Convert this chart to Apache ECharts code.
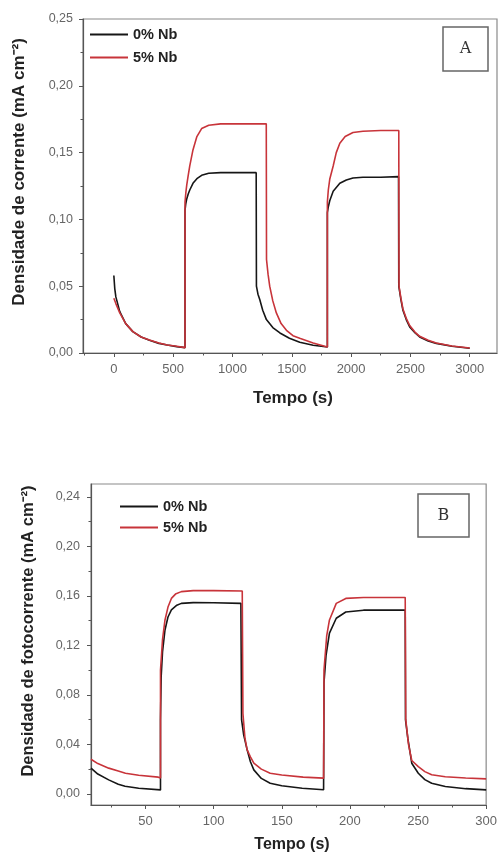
<!DOCTYPE html>
<html>
<head>
<meta charset="utf-8">
<script src="https://cdn.jsdelivr.net/npm/echarts@6/dist/echarts.min.js"></script>
<style>
  html, body { margin: 0; padding: 0; background: #fff; }
  #chart { width: 500px; height: 856px; }
</style>
</head>
<body>
<div id="chart"></div>
<script>
// painel A - densidade de corrente
const timeA0 = [0, 8, 17, 50, 100, 160, 230, 300, 380, 450, 530, 600,
  600, 606, 615, 627, 640, 667, 700, 740, 800, 900, 1000, 1100, 1200,
  1202, 1215, 1230, 1255, 1286, 1340, 1400, 1480, 1567, 1680, 1800,
  1800, 1808, 1820, 1849, 1905, 1960, 2016, 2100, 2250, 2400,
  2402, 2420, 2437, 2465, 2494, 2540, 2578, 2650, 2718, 2850, 3000];
const curA0 = [0.058, 0.048, 0.042, 0.031, 0.022, 0.016, 0.012, 0.0095, 0.0072, 0.006, 0.0048, 0.004,
  0.107, 0.1115, 0.1155, 0.119, 0.122, 0.127, 0.1305, 0.133, 0.1345, 0.135, 0.135, 0.135, 0.135,
  0.05, 0.044, 0.04, 0.032, 0.025, 0.019, 0.015, 0.011, 0.008, 0.0058, 0.0045,
  0.105, 0.1095, 0.114, 0.121, 0.127, 0.1295, 0.131, 0.1315, 0.1316, 0.132,
  0.05, 0.04, 0.032, 0.025, 0.0195, 0.015, 0.012, 0.009, 0.0072, 0.005, 0.0035];

const timeA5 = [0, 17, 50, 100, 160, 230, 300, 380, 450, 530, 600,
  600, 607, 615, 627, 640, 667, 700, 740, 800, 900, 1100, 1285,
  1287, 1300, 1314, 1340, 1370, 1410, 1455, 1510, 1567, 1680, 1800,
  1800, 1808, 1820, 1849, 1875, 1905, 1950, 2016, 2100, 2250, 2402,
  2404, 2420, 2437, 2465, 2494, 2540, 2578, 2650, 2718, 2850, 3000];
const curA5 = [0.041, 0.037, 0.03, 0.022, 0.016, 0.012, 0.0097, 0.0075, 0.006, 0.005, 0.004,
  0.113, 0.12, 0.126, 0.133, 0.14, 0.152, 0.162, 0.168, 0.1705, 0.1715, 0.1715, 0.1715,
  0.07, 0.059, 0.05, 0.039, 0.03, 0.022, 0.017, 0.013, 0.011, 0.0075, 0.0045,
  0.113, 0.122, 0.13, 0.14, 0.15, 0.157, 0.162, 0.165, 0.166, 0.1665, 0.1665,
  0.05, 0.041, 0.033, 0.026, 0.0205, 0.0155, 0.0125, 0.0095, 0.0075, 0.0052, 0.0038];

// painel B - densidade de fotocorrente
const timeB0 = [10, 15, 23, 30, 35, 45, 61,
  61, 61.5, 62.5, 64.3, 66.5, 69, 73, 76.3, 85, 100, 120,
  120.5, 122, 124.6, 127, 129.5, 135, 141.5, 150, 165, 180.7,
  181, 182.5, 185, 190, 197, 210, 240.6,
  240.8, 242.5, 245.4, 250.2, 255, 260, 270, 285, 300];
const curB0 = [0.0208, 0.016, 0.0113, 0.0078, 0.0062, 0.0045, 0.0032,
  0.06, 0.095, 0.115, 0.1325, 0.143, 0.1487, 0.1525, 0.154, 0.1546, 0.1545, 0.154,
  0.06, 0.048, 0.0356, 0.026, 0.0194, 0.0125, 0.0086, 0.0065, 0.0046, 0.0033,
  0.09, 0.112, 0.13, 0.142, 0.147, 0.1485, 0.1487,
  0.06, 0.045, 0.0248, 0.0167, 0.0115, 0.0086, 0.006, 0.0042, 0.0032];

const timeB5 = [10, 15, 23, 30, 35.3, 45, 59.4, 61,
  61, 62.5, 64.3, 66.5, 69, 72, 76.3, 85, 100, 121,
  121.5, 123, 124.6, 127, 129.5, 135, 141.5, 150, 165.7, 180.7,
  181, 183, 185, 190, 197, 210, 240.6,
  241, 243, 245.4, 250.2, 255, 260, 270, 285, 300];
const curB5 = [0.028, 0.0245, 0.0208, 0.0185, 0.0167, 0.015, 0.0135, 0.0128,
  0.1, 0.125, 0.1406, 0.151, 0.158, 0.1615, 0.1635, 0.1643, 0.1643, 0.164,
  0.065, 0.045, 0.0356, 0.03, 0.0248, 0.02, 0.0167, 0.0152, 0.0135, 0.0127,
  0.1, 0.128, 0.1406, 0.154, 0.158, 0.1587, 0.1587,
  0.06, 0.04, 0.027, 0.022, 0.018, 0.0154, 0.0138, 0.0128, 0.0121];

const ticksAx = [0, 500, 1000, 1500, 2000, 2500, 3000];
const minorAx = [-250, 250, 750, 1250, 1750, 2250, 2750];
const ticksAy = [0, 0.05, 0.1, 0.15, 0.2, 0.25];
const minorAy = [0.025, 0.075, 0.125, 0.175, 0.225];
const ticksBx = [50, 100, 150, 200, 250, 300];
const minorBx = [25, 75, 125, 175, 225, 275];
const ticksBy = [0, 0.04, 0.08, 0.12, 0.16, 0.2, 0.24];
const minorBy = [0.02, 0.06, 0.1, 0.14, 0.18, 0.22];

const seriesNames = ['0% Nb', '5% Nb'];

const pairs = (t, v) => t.map((x, i) => [x, v[i]]);
const comma = (v) => v.toFixed(2).replace('.', ',');

const BLACK = '#161616';
const RED = '#c8343a';
const AXIS = '#555';
const LABEL = '#666';
const FONT = '"Liberation Sans", Arial, sans-serif';

function xAx(grid, min, max, ticks, major) {
  return {
    type: 'value', gridIndex: grid, min, max, position: 'bottom',
    axisLine: { show: major, onZero: false, lineStyle: { color: AXIS, width: 1.2 } },
    axisTick: { show: true, customValues: ticks, length: major ? 4 : 2.5, lineStyle: { color: AXIS } },
    axisLabel: { show: major, customValues: ticks, color: LABEL, fontFamily: FONT, fontSize: 13, margin: 10,
      formatter: (v) => String(v) },
    splitLine: { show: false },
  };
}
function yAx(grid, min, max, ticks, major, margin) {
  return {
    type: 'value', gridIndex: grid, min, max, position: 'left',
    axisLine: { show: major, onZero: false, lineStyle: { color: AXIS, width: 1.2 } },
    axisTick: { show: true, customValues: ticks, length: major ? 4 : 2.5, lineStyle: { color: AXIS } },
    axisLabel: { show: major, customValues: ticks, color: LABEL, fontFamily: FONT, fontSize: 12.5, margin,
      formatter: comma },
    splitLine: { show: false },
  };
}

function line(name, data, color, xi, yi) {
  return {
    name, type: 'line', data, xAxisIndex: xi, yAxisIndex: yi,
    symbol: 'none', smooth: false,
    lineStyle: { color, width: 1.6 }, itemStyle: { color },
  };
}

const legendText = { fontFamily: FONT, fontWeight: 'bold', fontSize: 14.5, lineHeight: 15, color: '#222' };

const chart = echarts.init(document.getElementById('chart'));

const option = {
  backgroundColor: '#fff',
  animation: false,
  grid: [
    { left: 83, top: 19, width: 414, height: 334, show: true, borderColor: '#8a8a8a', borderWidth: 1.2 },
    { left: 91, top: 484, width: 400, height: 321, show: true, borderColor: '#8a8a8a', borderWidth: 1.2 },
  ],
  xAxis: [
    xAx(0, -260, 3230, ticksAx, true),
    xAx(0, -260, 3230, minorAx, false),
    xAx(1, 10, 300, ticksBx, true),
    xAx(1, 10, 300, minorBx, false),
  ],
  yAxis: [
    yAx(0, 0, 0.25, ticksAy, true, 10),
    yAx(0, 0, 0.25, minorAy, false, 10),
    yAx(1, -0.009, 0.2505, ticksBy, true, 11),
    yAx(1, -0.009, 0.2505, minorBy, false, 11),
  ],
  legend: [
    { data: seriesNames, orient: 'vertical', left: 90, top: 27, padding: 0, itemWidth: 38, itemHeight: 2,
      itemGap: 8, icon: 'rect', textStyle: legendText },
    { data: seriesNames, orient: 'vertical', left: 120, top: 499, padding: 0, itemWidth: 38, itemHeight: 2,
      itemGap: 6, icon: 'rect', textStyle: legendText },
  ],
  series: [
    line(seriesNames[0], pairs(timeA0, curA0), BLACK, 0, 0),
    line(seriesNames[1], pairs(timeA5, curA5), RED, 0, 0),
    line(seriesNames[0], pairs(timeB0, curB0), BLACK, 2, 2),
    line(seriesNames[1], pairs(timeB5, curB5), RED, 2, 2),
  ],
  graphic: [
    { type: 'rect', shape: { x: 443, y: 27, width: 45, height: 44 },
      style: { fill: '#fff', stroke: '#666', lineWidth: 1.5 } },
    { type: 'text', x: 465.5, y: 49, style: { text: 'A', font: '16px "DejaVu Serif", serif', fill: '#333',
      textAlign: 'center', textVerticalAlign: 'middle' } },
    { type: 'rect', shape: { x: 418, y: 494, width: 51, height: 43 },
      style: { fill: '#fff', stroke: '#666', lineWidth: 1.5 } },
    { type: 'text', x: 443.5, y: 515.5, style: { text: 'B', font: '16px "DejaVu Serif", serif', fill: '#333',
      textAlign: 'center', textVerticalAlign: 'middle' } },
    { type: 'text', x: 293, y: 398, style: { text: 'Tempo (s)', font: 'bold 17px "Liberation Sans", Arial, sans-serif',
      fill: '#222', textAlign: 'center', textVerticalAlign: 'middle' } },
    { type: 'text', x: 292, y: 845, style: { text: 'Tempo (s)', font: 'bold 16px "Liberation Sans", Arial, sans-serif',
      fill: '#222', textAlign: 'center', textVerticalAlign: 'middle' } },
    { type: 'text', x: 19, y: 172, rotation: Math.PI / 2,
      style: { text: 'Densidade de corrente (mA cm⁻²)', font: 'bold 17px "Liberation Sans", Arial, sans-serif',
        fill: '#222', textAlign: 'center', textVerticalAlign: 'middle' } },
    { type: 'text', x: 28, y: 631, rotation: Math.PI / 2,
      style: { text: 'Densidade de fotocorrente (mA cm⁻²)', font: 'bold 16.5px "Liberation Sans", Arial, sans-serif',
        fill: '#222', textAlign: 'center', textVerticalAlign: 'middle' } },
  ],
};

chart.setOption(option);
</script>
</body>
</html>
